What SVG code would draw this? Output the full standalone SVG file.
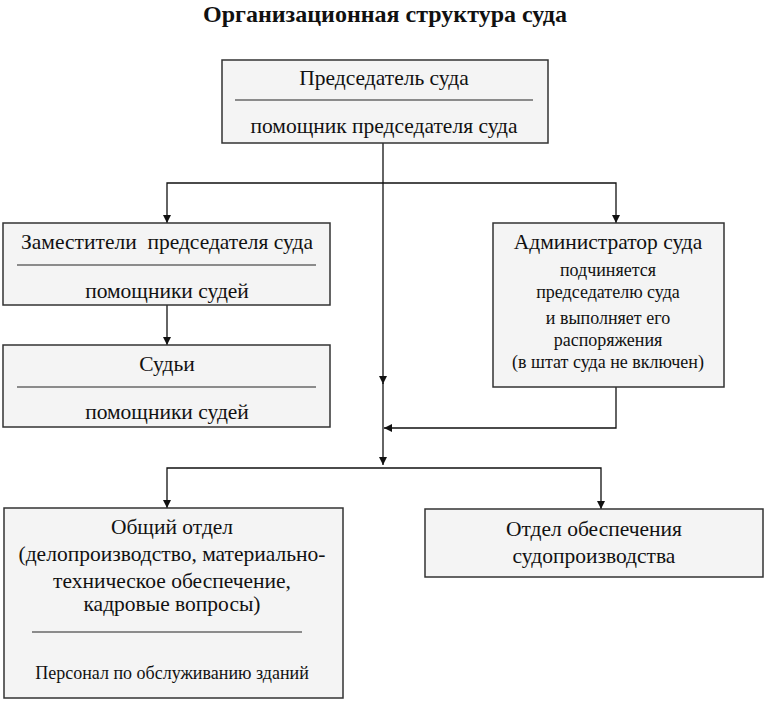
<svg xmlns="http://www.w3.org/2000/svg" width="768" height="705" viewBox="0 0 768 705">
<defs>
<marker id="arr" viewBox="0 0 10 10" refX="10" refY="5" markerWidth="8" markerHeight="8" markerUnits="userSpaceOnUse" orient="auto">
<path d="M0,0 L10,5 L0,10 Z" fill="#111"/>
</marker>
</defs>
<style>
.box{fill:#f4f4f4;stroke:#333;stroke-width:1.5}
.sep{stroke:#222;stroke-width:1.2}
.t{font-family:"Liberation Serif","DejaVu Serif",serif;font-size:21.5px;fill:#111;text-anchor:middle}
.s{font-size:18px}
.title{font-family:"Liberation Serif","DejaVu Serif",serif;font-size:24px;font-weight:bold;fill:#111;text-anchor:middle}
.c{fill:none;stroke:#111;stroke-width:1.3}
</style>
<rect width="768" height="705" fill="#fff"/>
<text class="title" x="385" y="22">Организационная структура суда</text>
<g id="connectors">
<path class="c" d="M383,143 V465" marker-end="url(#arr)"/>
<path class="c" d="M383,383 V384" marker-end="url(#arr)"/>
<path class="c" d="M383,183 H167 V223" marker-end="url(#arr)"/>
<path class="c" d="M383,183 H616 V223" marker-end="url(#arr)"/>
<path class="c" d="M167,305 V345" marker-end="url(#arr)"/>
<path class="c" d="M616,387 V428 H384" marker-end="url(#arr)"/>
<path class="c" d="M383,468 H167 V508" marker-end="url(#arr)"/>
<path class="c" d="M383,468 H601 V509" marker-end="url(#arr)"/>
</g>
<g id="chairman">
<rect class="box" x="222" y="60" width="326" height="83"/>
<text class="t" x="384" y="85">Председатель суда</text>
<line class="sep" x1="235" y1="100" x2="533" y2="100"/>
<text class="t" x="384" y="133">помощник председателя суда</text>
</g>
<g id="deputies">
<rect class="box" x="3" y="223" width="327" height="82"/>
<text class="t" x="167" y="249" xml:space="preserve">Заместители  председателя суда</text>
<line class="sep" x1="17" y1="265" x2="316" y2="265"/>
<text class="t" x="167" y="298">помощники судей</text>
</g>
<g id="judges">
<rect class="box" x="3" y="345" width="327" height="82"/>
<text class="t" x="167" y="371">Судьи</text>
<line class="sep" x1="17" y1="387" x2="316" y2="387"/>
<text class="t" x="167" y="419">помощники судей</text>
</g>
<g id="administrator">
<rect class="box" x="493" y="223" width="231" height="164"/>
<text class="t" x="608" y="249">Администратор суда</text>
<text class="t s" x="608" y="276">подчиняется</text>
<text class="t s" x="608" y="298">председателю суда</text>
<text class="t s" x="608" y="324">и выполняет его</text>
<text class="t s" x="608" y="346">распоряжения</text>
<text class="t s" x="608" y="368">(в штат суда не включен)</text>
</g>
<g id="general">
<rect class="box" x="4" y="508" width="339" height="190"/>
<text class="t" x="172" y="534">Общий отдел</text>
<text class="t" x="172" y="561">(делопроизводство, материально-</text>
<text class="t" x="172" y="588">техническое обеспечение,</text>
<text class="t" x="172" y="611">кадровые вопросы)</text>
<line class="sep" x1="32" y1="632" x2="302" y2="632"/>
<text class="t s" x="172" y="679">Персонал по обслуживанию зданий</text>
</g>
<g id="support">
<rect class="box" x="425" y="509" width="338" height="68"/>
<text class="t" x="594" y="536">Отдел обеспечения</text>
<text class="t" x="594" y="563">судопроизводства</text>
</g>
</svg>
